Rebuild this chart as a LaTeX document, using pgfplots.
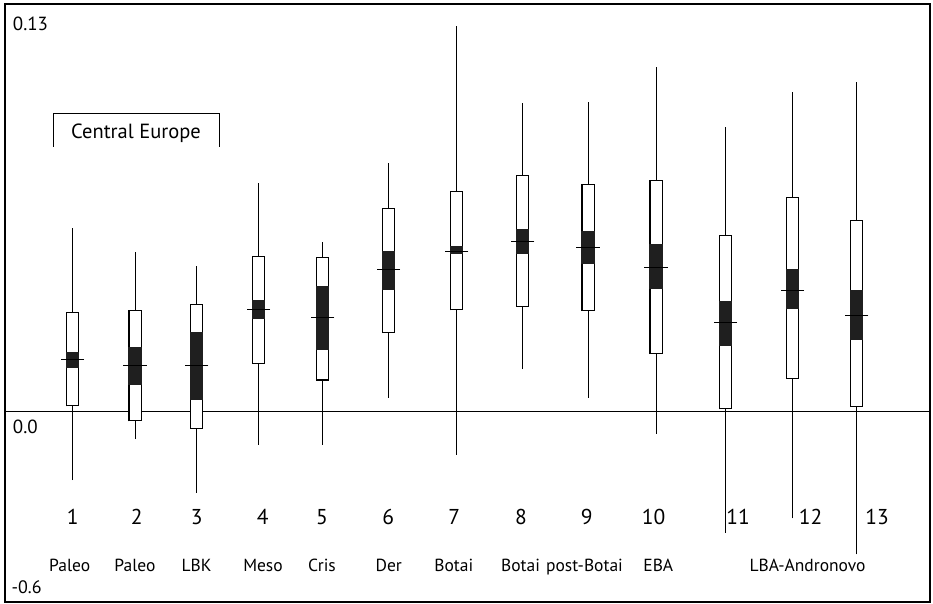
\documentclass[border=0pt]{standalone}
\usepackage{pgfplots}
\usepackage{pgfplotstable}
\pgfplotsset{compat=1.18}
\usepackage{fontspec}
\setmainfont{PT Sans}
\pgfplotstableread{
x wb bb mean bt wt blo bhi
72.3 -0.0218 0.0019 0.0168 0.0317 0.0585 0.0140 0.0191
135 -0.0088 -0.0029 0.0147 0.0323 0.0510 0.0084 0.0207
196.7 -0.0258 -0.0053 0.0147 0.0341 0.0466 0.0037 0.0255
258.3 -0.0106 0.0154 0.0325 0.0494 0.0728 0.0296 0.0356
322.7 -0.0106 0.0101 0.0300 0.0492 0.0540 0.0196 0.0401
388.3 0.0045 0.0252 0.0452 0.0647 0.0792 0.0389 0.0512
456.7 -0.0138 0.0325 0.0510 0.0701 0.1230 0.0502 0.0529
522.7 0.0136 0.0336 0.0542 0.0754 0.0983 0.0502 0.0583
588 0.0045 0.0323 0.0524 0.0724 0.0988 0.0472 0.0575
656 -0.0070 0.0185 0.0461 0.0738 0.1098 0.0390 0.0534
725.3 -0.0386 0.0009 0.0283 0.0561 0.0907 0.0210 0.0354
792.3 -0.0340 0.0106 0.0388 0.0682 0.1020 0.0328 0.0454
856.7 -0.0455 0.0016 0.0308 0.0609 0.1052 0.0229 0.0388
}\boxdata
\pgfplotsset{
  ebar/.style 2 args={draw=none, mark=none,
    error bars/.cd, y dir=plus, y explicit, error mark=none,
    error bar style={draw=#1, line width=#2}},
}
\tikzset{
  numlab/.style={anchor=base, inner sep=0pt, font=\fontsize{21.5}{23}\selectfont},
  grplab/.style={anchor=base, inner sep=0pt, font=\fontsize{17.5}{19}\selectfont},
}
\begin{document}
\begin{tikzpicture}
\useasboundingbox (-5pt,-2pt) rectangle (928pt,602pt);
\begin{axis}[
  at={(0pt,0pt)}, anchor=south west,
  scale only axis, width=925pt, height=598pt,
  xmin=5, xmax=930, ymin=-0.0607, ymax=0.13,
  xtick=\empty, ytick=\empty,
  axis line style={line width=1.8pt},
  clip=false,
]
% zero line
\addplot[line width=0.9pt, mark=none] coordinates {(5,0) (930,0)};
% whiskers
\addplot[ebar={black}{0.9pt}] table[x=x, y=wb, y error plus expr={\thisrow{wt}-\thisrow{wb}}] {\boxdata};
% box outline
\addplot[ebar={black}{13.4pt}] table[x=x, y expr={\thisrow{bb}-0.00019}, y error plus expr={\thisrow{bt}-\thisrow{bb}+0.00038}] {\boxdata};
% box interior
\addplot[ebar={white}{11pt}] table[x=x, y expr={\thisrow{bb}+0.00019}, y error plus expr={\thisrow{bt}-\thisrow{bb}-0.00038}] {\boxdata};
% black interval
\addplot[ebar={black!88}{13.4pt}] table[x=x, y=blo, y error plus expr={\thisrow{bhi}-\thisrow{blo}}] {\boxdata};
% means
\addplot[only marks, mark=-, mark size=11.7pt, mark options={line width=0.9pt, black}] table[x=x, y=mean] {\boxdata};

% axis value labels
\node[anchor=base west, inner sep=0pt, font=\fontsize{19}{21}\selectfont] at (axis cs:12.7,0.1217) {0.13};
\node[anchor=base west, inner sep=0pt, font=\fontsize{19}{21}\selectfont] at (axis cs:12.7,-0.0071) {0.0};
\node[anchor=base west, inner sep=0pt, font=\fontsize{18}{20}\selectfont] at (axis cs:11.5,-0.0579) {-0.6};

% Central Europe bracket
\draw[line width=1pt] (axis cs:53.3,0.0845) -- (axis cs:53.3,0.0951) -- (axis cs:219.3,0.0951) -- (axis cs:219.3,0.0845);
\node[anchor=base, inner sep=0pt, font=\fontsize{20.5}{22}\selectfont] at (axis cs:136,0.0872) {Central Europe};

% numbers
\node[numlab] at (axis cs:72.7,-0.0359) {1};
\node[numlab] at (axis cs:136.7,-0.0359) {2};
\node[numlab] at (axis cs:196.7,-0.0359) {3};
\node[numlab] at (axis cs:262.7,-0.0359) {4};
\node[numlab] at (axis cs:322,-0.0359) {5};
\node[numlab] at (axis cs:388.3,-0.0359) {6};
\node[numlab] at (axis cs:454.3,-0.0359) {7};
\node[numlab] at (axis cs:521,-0.0359) {8};
\node[numlab] at (axis cs:586.7,-0.0359) {9};
\node[numlab] at (axis cs:653.7,-0.0359) {10};
\node[numlab] at (axis cs:738,-0.0359) {11};
\node[numlab] at (axis cs:810.7,-0.0359) {12};
\node[numlab] at (axis cs:877,-0.0359) {13};

% group labels
\node[grplab] at (axis cs:69.7,-0.0511) {Paleo};
\node[grplab] at (axis cs:135,-0.0511) {Paleo};
\node[grplab] at (axis cs:196.5,-0.0511) {LBK};
\node[grplab] at (axis cs:263,-0.0511) {Meso};
\node[grplab] at (axis cs:322,-0.0511) {Cris};
\node[grplab] at (axis cs:388.7,-0.0511) {Der};
\node[grplab] at (axis cs:453.8,-0.0511) {Botai};
\node[grplab] at (axis cs:520.5,-0.0511) {Botai};
\node[grplab] at (axis cs:584.5,-0.0511) {post-Botai};
\node[grplab] at (axis cs:658.3,-0.0511) {EBA};
\node[grplab] at (axis cs:807.5,-0.0511) {LBA-Andronovo};
\end{axis}
\end{tikzpicture}
\end{document}
